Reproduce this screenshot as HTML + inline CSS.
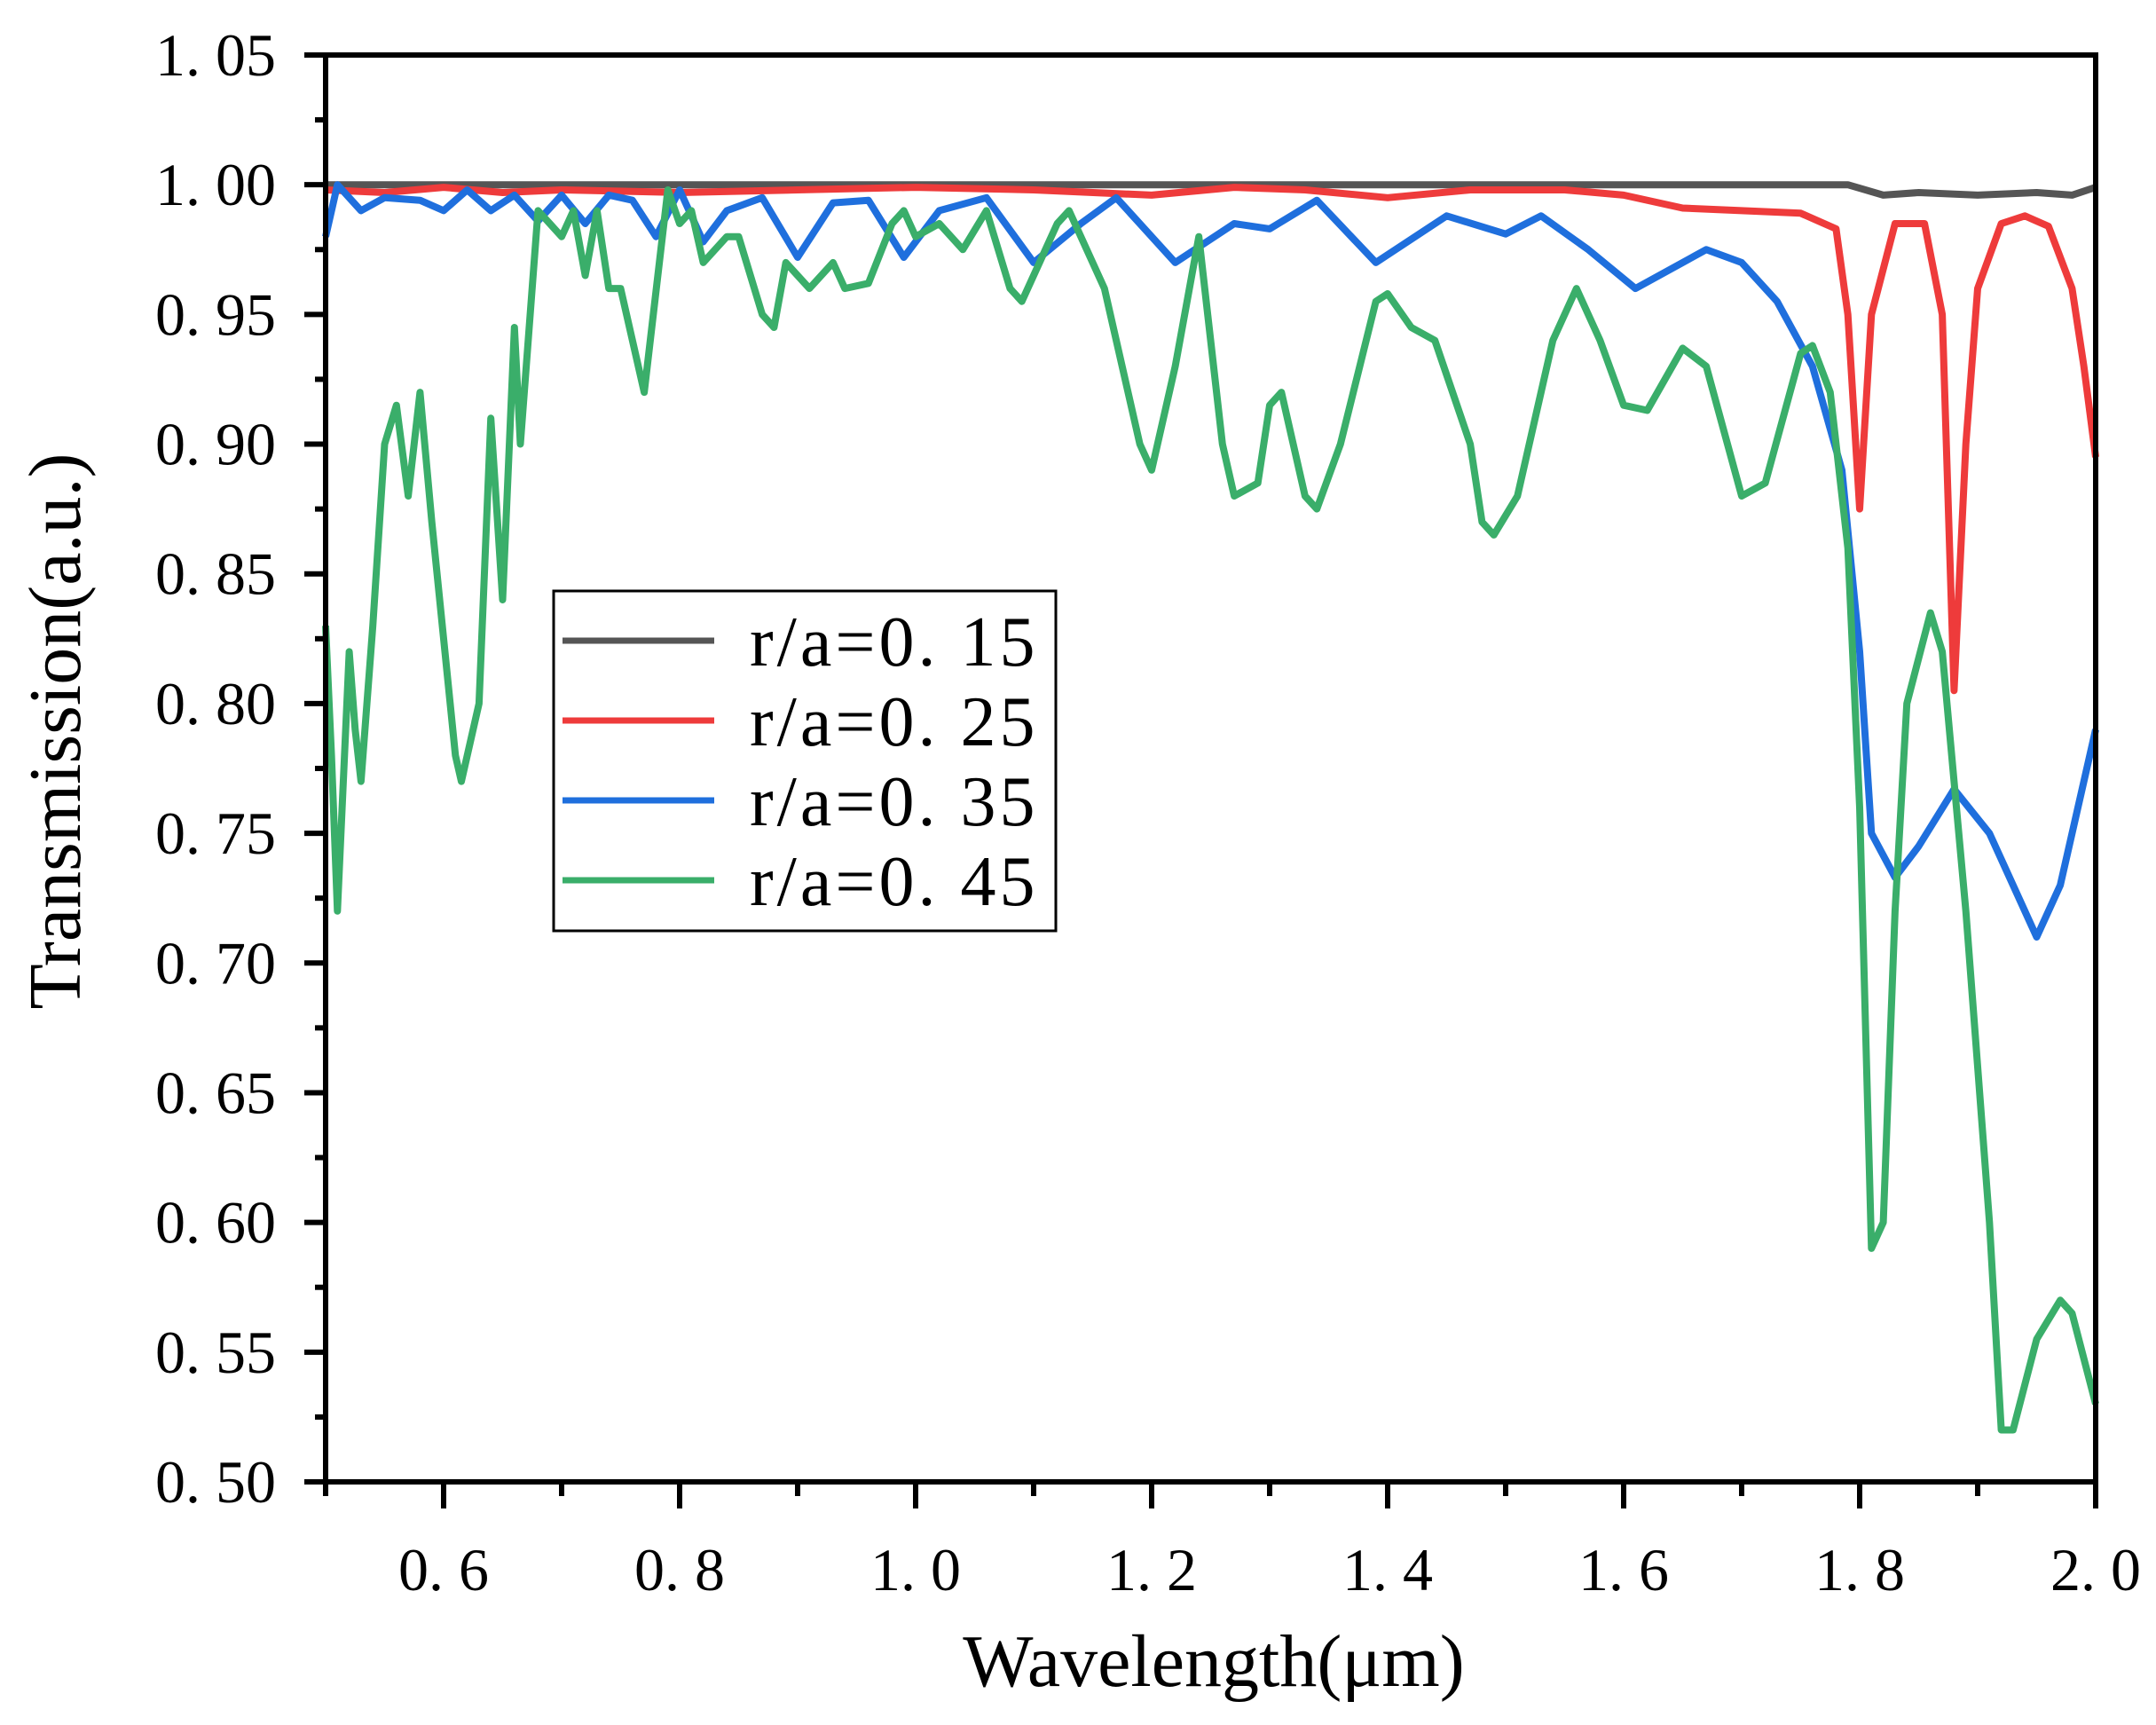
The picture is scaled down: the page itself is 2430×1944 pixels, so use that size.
<!DOCTYPE html>
<html><head><meta charset="utf-8"><style>
body{margin:0;background:#fff;}
svg text{font-family:"Liberation Serif","Noto Serif CJK SC",serif;}
</style></head><body>
<svg id="chart" width="2430" height="1939" viewBox="0 0 2430 1939" xmlns="http://www.w3.org/2000/svg">
<g id="plot"></g>
</svg>
<script>
const xTicks=[0.6,0.8,1.0,1.2,1.4,1.6,1.8,2.0];
const xTickLabels=["0. 6","0. 8","1. 0","1. 2","1. 4","1. 6","1. 8","2. 0"];
const yTicks=[0.50,0.55,0.60,0.65,0.70,0.75,0.80,0.85,0.90,0.95,1.00,1.05];
const yTickLabels=["0. 50","0. 55","0. 60","0. 65","0. 70","0. 75","0. 80","0. 85","0. 90","0. 95","1. 00","1. 05"];
const seriesNames=["r/a=0. 15","r/a=0. 25","r/a=0. 35","r/a=0. 45"];
const seriesColors=["#555555","#ee3b3b","#1f6fdd","#3aae6a"];
const s15=[[0.5,1.0],[0.8,1.0],[1.2,1.0],[1.6,1.0],[1.79,1.0],[1.82,0.996],[1.85,0.997],[1.9,0.996],[1.95,0.997],[1.98,0.996],[2.0,0.999]];
const s25=[[0.5,0.998],[0.55,0.997],[0.6,0.999],[0.65,0.997],[0.7,0.998],[0.8,0.997],[0.9,0.998],[1.0,0.999],[1.1,0.998],[1.2,0.996],[1.27,0.999],[1.33,0.998],[1.4,0.995],[1.47,0.998],[1.55,0.998],[1.6,0.996],[1.65,0.991],[1.7,0.99],[1.75,0.989],[1.78,0.983],[1.79,0.95],[1.8,0.875],[1.81,0.95],[1.83,0.985],[1.855,0.985],[1.87,0.95],[1.88,0.805],[1.89,0.9],[1.9,0.96],[1.92,0.985],[1.94,0.988],[1.96,0.984],[1.98,0.96],[1.99,0.93],[2.0,0.895]];
const s35=[[0.5,0.98],[0.51,1.0],[0.53,0.99],[0.55,0.995],[0.58,0.994],[0.6,0.99],[0.62,0.998],[0.64,0.99],[0.66,0.996],[0.68,0.986],[0.7,0.996],[0.72,0.985],[0.74,0.996],[0.76,0.994],[0.78,0.98],[0.8,0.998],[0.82,0.978],[0.84,0.99],[0.87,0.995],[0.9,0.972],[0.93,0.993],[0.96,0.994],[0.99,0.972],[1.02,0.99],[1.06,0.995],[1.1,0.97],[1.14,0.985],[1.17,0.995],[1.22,0.97],[1.27,0.985],[1.3,0.983],[1.34,0.994],[1.39,0.97],[1.45,0.988],[1.5,0.981],[1.53,0.988],[1.57,0.975],[1.61,0.96],[1.67,0.975],[1.7,0.97],[1.73,0.955],[1.76,0.93],[1.785,0.89],[1.8,0.82],[1.81,0.75],[1.83,0.733],[1.85,0.745],[1.88,0.767],[1.91,0.75],[1.95,0.71],[1.97,0.73],[2.0,0.79]];
const s45=[[0.5,0.83],[0.505,0.78],[0.51,0.72],[0.52,0.82],[0.525,0.79],[0.53,0.77],[0.54,0.83],[0.55,0.9],[0.56,0.915],[0.57,0.88],[0.58,0.92],[0.59,0.87],[0.61,0.78],[0.615,0.77],[0.63,0.8],[0.64,0.91],[0.65,0.84],[0.66,0.945],[0.665,0.9],[0.68,0.99],[0.69,0.985],[0.7,0.98],[0.71,0.99],[0.72,0.965],[0.73,0.99],[0.74,0.96],[0.75,0.96],[0.77,0.92],[0.79,0.998],[0.8,0.985],[0.81,0.99],[0.82,0.97],[0.84,0.98],[0.85,0.98],[0.87,0.95],[0.88,0.945],[0.89,0.97],[0.9,0.965],[0.91,0.96],[0.93,0.97],[0.94,0.96],[0.96,0.962],[0.98,0.985],[0.99,0.99],[1.0,0.98],[1.02,0.985],[1.04,0.975],[1.06,0.99],[1.08,0.96],[1.09,0.955],[1.12,0.985],[1.13,0.99],[1.16,0.96],[1.19,0.9],[1.2,0.89],[1.22,0.93],[1.24,0.98],[1.26,0.9],[1.27,0.88],[1.29,0.885],[1.3,0.915],[1.31,0.92],[1.33,0.88],[1.34,0.875],[1.36,0.9],[1.39,0.955],[1.4,0.958],[1.42,0.945],[1.44,0.94],[1.47,0.9],[1.48,0.87],[1.49,0.865],[1.51,0.88],[1.54,0.94],[1.56,0.96],[1.58,0.94],[1.6,0.915],[1.62,0.913],[1.65,0.937],[1.67,0.93],[1.7,0.88],[1.72,0.885],[1.75,0.935],[1.76,0.938],[1.775,0.92],[1.79,0.86],[1.8,0.76],[1.81,0.59],[1.82,0.6],[1.83,0.72],[1.84,0.8],[1.86,0.835],[1.87,0.82],[1.89,0.72],[1.91,0.6],[1.92,0.52],[1.93,0.52],[1.95,0.555],[1.97,0.57],[1.98,0.565],[2.0,0.53]];
const allSeries=[s15,s25,s35,s45];

const NS="http://www.w3.org/2000/svg";
const L=367,R=2362,T=62,B=1670,X0=0.5,X1=2.0,Y0=0.5,Y1=1.05;
function sx(v){return L+(v-X0)/(X1-X0)*(R-L);}
function sy(v){return B-(v-Y0)/(Y1-Y0)*(B-T);}
const g=document.getElementById('plot');
function mk(tag,attrs,parent){const e=document.createElementNS(NS,tag);for(const k in attrs)e.setAttribute(k,attrs[k]);(parent||g).appendChild(e);return e;}

allSeries.forEach((s,i)=>{
  const p=mk('polyline',{points:s.map(d=>sx(d[0]).toFixed(1)+','+sy(d[1]).toFixed(1)).join(' '),fill:'none',stroke:seriesColors[i],'stroke-width':8,'stroke-linejoin':'round'});
  
  
});
const fr=mk('rect',{x:L,y:T,width:R-L,height:B-T,fill:'none',stroke:'#000','stroke-width':6});


yTicks.forEach((v,i)=>{
  const y=sy(v);
  const t=mk('line',{x1:L-24,x2:L,y1:y,y2:y,stroke:'#000','stroke-width':6});
  
  
  if(i<yTicks.length-1){const ym=sy(v+0.025);const m=mk('line',{x1:L-12,x2:L,y1:ym,y2:ym,stroke:'#000','stroke-width':6});
  
  }
  const tx=mk('text',{x:L-56,y:y+23,'text-anchor':'end','font-size':68,fill:'#000'});
  tx.textContent=yTickLabels[i];
  
  
});
for(let k=0;k<=15;k++){const v=0.5+k*0.1;const x=sx(v);const major=(k%2==1);
  const t=mk('line',{x1:x,x2:x,y1:B,y2:B+(major?30:16),stroke:'#000','stroke-width':6});
  
  }
xTicks.forEach((v,i)=>{
  const tx=mk('text',{x:sx(v),y:B+122,'text-anchor':'middle','font-size':68,fill:'#000'});
  tx.textContent=xTickLabels[i];
  
  
});
const xt=mk('text',{x:1368,y:1900,'text-anchor':'middle','font-size':84,fill:'#000'});
xt.textContent='Wavelength(μm)';


const yt=mk('text',{x:0,y:0,'text-anchor':'middle','font-size':84,fill:'#000',transform:'translate(90,824) rotate(-90)'});
yt.textContent='Transmission(a.u.)';


const lg=mk('g',{});


const lb=mk('rect',{x:624,y:666,width:566,height:383,fill:'#fff',stroke:'#000','stroke-width':3},lg);


seriesNames.forEach((n,i)=>{
  const y=722+i*90;
  const ln=mk('line',{x1:634,x2:805,y1:y,y2:y,stroke:seriesColors[i],'stroke-width':7},lg);
  
  
  const tx=mk('text',{x:845,y:y+28,'font-size':80,'letter-spacing':4,fill:'#000'},lg);
  tx.textContent=n;
  
  
});
</script>
</body></html>
